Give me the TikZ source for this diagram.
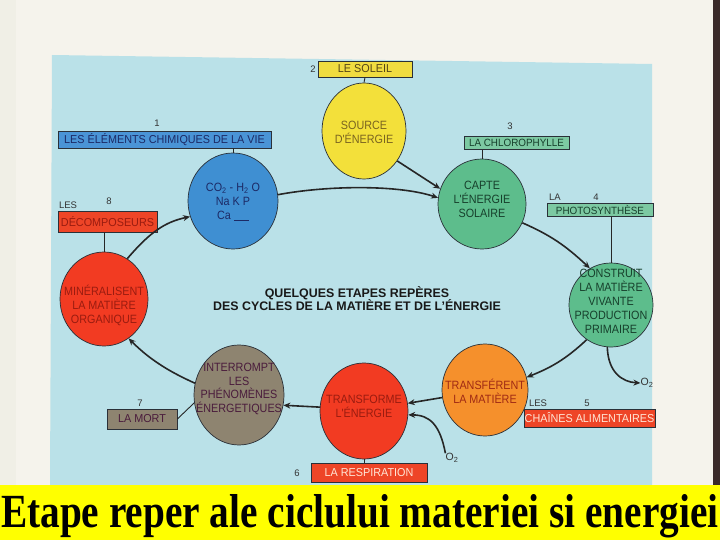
\documentclass[tikz,border=0pt]{standalone}
\usepackage{fontspec}
\usepackage{graphicx}
\setmainfont{Liberation Sans}
\newfontfamily\cfont[FakeStretch=0.9]{Liberation Sans}
\newfontfamily\bxfont[FakeStretch=0.94]{Liberation Sans}
\newfontfamily\banfont{Liberation Serif}
\usetikzlibrary{shapes.geometric,arrows.meta}
\definecolor{pagecol}{HTML}{F5F3EC}
\definecolor{stripcol}{HTML}{F0EFE6}
\definecolor{edgecol}{HTML}{3A2A2A}
\definecolor{panel}{HTML}{BAE1E8}
\definecolor{banner}{HTML}{FFFF00}
\definecolor{outl}{HTML}{2A3038}
\definecolor{sunY}{HTML}{F3E03A}
\definecolor{sunBox}{HTML}{F0DC40}
\definecolor{blueC}{HTML}{3F8FD2}
\definecolor{blueBox}{HTML}{4A94D6}
\definecolor{greenC}{HTML}{5DBD8C}
\definecolor{greenBox}{HTML}{7CC9A2}
\definecolor{redC}{HTML}{F23B22}
\definecolor{redBox}{HTML}{EE4527}
\definecolor{orangeC}{HTML}{F5902C}
\definecolor{brownC}{HTML}{8E8470}
\definecolor{sunT}{HTML}{7A6420}
\definecolor{blueT}{HTML}{1C2A66}
\definecolor{greenT}{HTML}{17402C}
\definecolor{redT}{HTML}{9A1C10}
\definecolor{orangeT}{HTML}{A02A14}
\definecolor{brownT}{HTML}{4A1C3C}
\definecolor{lightT}{HTML}{FFE6D6}
\definecolor{numT}{HTML}{333333}
\begin{document}
\begin{tikzpicture}[x=1pt,y=-1pt,
  circ/.style={ellipse, draw=outl, line width=0.7pt, inner sep=0pt},
  ctext/.style={align=center, inner sep=0pt, font=\cfont\fontsize{12}{14}\selectfont},
  lbox/.style={draw=outl, line width=0.7pt, inner sep=0pt, font=\bxfont\fontsize{11.5}{13}\selectfont},
  sbox/.style={lbox, font=\bxfont\fontsize{10.5}{12}\selectfont},
  num/.style={inner sep=0pt, text=numT, font=\fontsize{9.5}{11}\selectfont},
  arr/.style={-{Stealth[length=7pt,width=6pt]}, line width=1.6pt, black!85},
  conn/.style={line width=0.9pt, black!85}]
\useasboundingbox (0,0) rectangle (720,540);
\fill[pagecol] (0,0) rectangle (720,540);
\fill[stripcol] (0,0) rectangle (16,485);
\fill[edgecol] (713,0) rectangle (720,485);
\fill[panel] (52,55) -- (652,64) -- (652,485) -- (50,485) -- cycle;
\fill[banner] (0,485) rectangle (720,540);

% circles
\node[circ, fill=sunY, minimum width=84pt, minimum height=96pt] (sun) at (364,131) {};
\node[ctext, text=sunT] (sunt) at (364,132) {SOURCE\\D'ÉNERGIE};
\node[circ, fill=blueC, minimum width=90pt, minimum height=96pt] (chem) at (233,201) {};
\node[ctext, text=blueT] (chemt) at (233,202) {CO\textsubscript{2} - H\textsubscript{2} O\\Na K P\\Ca \rule[-1pt]{15pt}{0.7pt}};
\node[circ, fill=greenC, minimum width=88pt, minimum height=90pt] (capte) at (482,204) {};
\node[ctext, text=greenT] (captet) at (482,199) {CAPTE\\L'ÉNERGIE\\SOLAIRE};
\node[circ, fill=greenC, minimum width=84pt, minimum height=84pt] (constr) at (611,305) {};
\node[ctext, text=greenT] (constrt) at (611,301) {CONSTRUIT\\LA MATIÈRE\\VIVANTE\\PRODUCTION\\PRIMAIRE};
\node[circ, fill=orangeC, minimum width=86pt, minimum height=92pt] (transf) at (485,390) {};
\node[ctext, text=orangeT] (transft) at (485,391) {TRANSFÉRENT\\LA MATIÈRE};
\node[circ, fill=redC, minimum width=88pt, minimum height=96pt] (transfo) at (364,411) {};
\node[ctext, text=redT] (transfot) at (364,406) {TRANSFORME\\L'ÉNERGIE};
\node[circ, fill=brownC, minimum width=90pt, minimum height=100pt] (interr) at (239,395) {};
\node[ctext, text=brownT, font=\cfont\fontsize{12}{13.4}\selectfont] (interrt) at (239,389) {INTERROMPT\\LES\\PHÉNOMÈNES\\ÉNERGETIQUES};
\node[circ, fill=redC, minimum width=88pt, minimum height=94pt] (miner) at (104,299) {};
\node[ctext, text=redT] (minert) at (104,305) {MINÉRALISENT\\LA MATIÈRE\\ORGANIQUE};

% boxes
\node[lbox, fill=sunBox, text=sunT!70!black, minimum width=94pt, minimum height=16pt] (soleil) at (365,69) {LE SOLEIL};
\node[lbox, fill=blueBox, text=blueT, minimum width=213pt, minimum height=17pt] (chembox) at (164.5,139.5) {LES ÉLÉMENTS CHIMIQUES DE LA VIE};
\node[sbox, fill=greenBox, text=greenT, minimum width=105pt, minimum height=13pt] (chloro) at (516.5,143) {LA CHLOROPHYLLE};
\node[sbox, fill=greenBox, text=greenT, minimum width=106pt, minimum height=13pt] (photo) at (600,210) {PHOTOSYNTHÈSE};
\node[lbox, fill=redBox, text=lightT, minimum width=131pt, minimum height=18pt] (chaines) at (589.5,418) {CHAÎNES ALIMENTAIRES};
\node[lbox, fill=redBox, text=lightT, minimum width=116pt, minimum height=19pt] (resp) at (369,472.5) {LA RESPIRATION};
\node[lbox, fill=brownC, text=brownT, minimum width=70pt, minimum height=20pt] (mort) at (142,419) {LA MORT};
\node[lbox, fill=redBox, text=redT, minimum width=99pt, minimum height=21pt] (decomp) at (107.5,221.5) {DÉCOMPOSEURS};

% numbers and small labels
\node[num] (n1) at (157,123) {1};
\node[num] (n2) at (313,69) {2};
\node[num] (n3) at (510,126) {3};
\node[num] (n4) at (596,197) {4};
\node[num] (la4) at (555,197) {LA};
\node[num] (n5) at (587,403) {5};
\node[num] (les5) at (538,403) {LES};
\node[num] (n6) at (297,473) {6};
\node[num] (n7) at (140,403) {7};
\node[num] (n8) at (109,201) {8};
\node[num] (les8) at (68,205) {LES};
\node[num, font=\fontsize{10.5}{12}\selectfont] (o2a) at (647,383) {O\textsubscript{2}};
\node[num, font=\fontsize{10.5}{12}\selectfont] (o2b) at (452,458) {O\textsubscript{2}};

% title
\node[align=center, inner sep=0pt, text=black!90, font=\bfseries\fontsize{12.4}{13.5}\selectfont] (title) at (357,298.5) {QUELQUES ETAPES REPÈRES\\DES CYCLES DE LA MATIÈRE ET DE L'ÉNERGIE};

% box connectors
\draw[conn] (soleil.south) -- (sun.north);
\draw[conn] (chem.north) -- (chem.north |- chembox.south);
\draw[conn] (capte.north) -- (capte.north |- chloro.south);
\draw[conn] (constr.north) -- (constr.north |- photo.south);
\draw[conn] (transfo.south) -- (transfo.south |- resp.north);
\draw[conn] (miner.north) -- (miner.north |- decomp.south);
\draw[conn] (mort.east) -- (interr.190);

% cycle arrows
\draw[arr] (miner.60) .. controls (150,232) and (165,222) .. (chem.200);
\draw[arr] (chem.8) .. controls (330,185) and (400,185) .. (capte.172);
\draw[arr] (sun.-42) -- (capte.160);
\draw[arr] (capte.-25) .. controls (550,235) and (565,245) .. (constr.120);
\draw[arr] (constr.235) .. controls (565,360) and (550,368) .. (transf.17);
\draw[arr] (constr.265) .. controls (608,372) and (622,382) .. (o2a.west);
\draw[arr] (transf.190) -- (transfo.10);
\draw[arr] (o2b.north west) .. controls (440,425) and (430,415) .. (transfo.-5);
\draw[arr] (transfo.175) -- (interr.-13);
\draw[arr] (interr.165) .. controls (170,372) and (150,360) .. (miner.-58);

% banner
\node[anchor=base west, inner sep=0pt] (ban) at (1,527) {\resizebox{717pt}{33pt}{\banfont\bfseries Etape reper ale ciclului materiei si energiei}};
\end{tikzpicture}
\end{document}
